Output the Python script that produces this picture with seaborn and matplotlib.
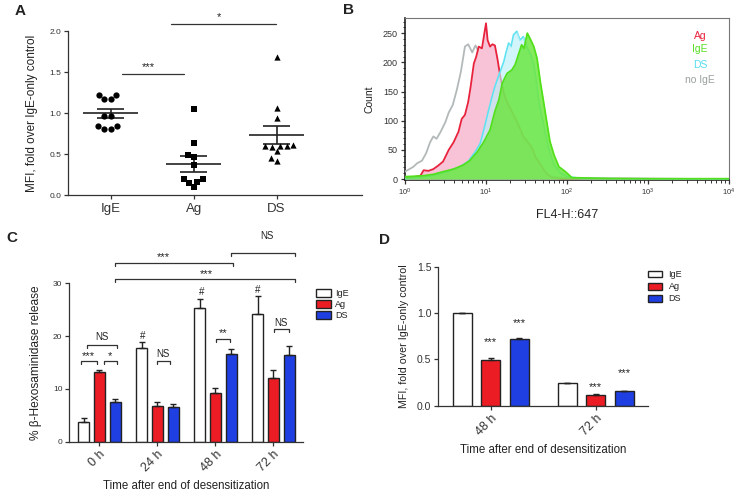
import numpy as np
import pandas as pd
import seaborn as sns
import matplotlib.pyplot as plt

# panel A: MFI fold over IgE-only control, one value per experiment
a_groups = ['IgE', 'Ag', 'DS']
a_ige = [1.215, 1.17, 1.17, 1.215, 0.96, 0.96, 0.84, 0.805, 0.805, 0.84]
a_ag = [1.05, 0.638, 0.49, 0.46, 0.37, 0.195, 0.195, 0.155, 0.142, 0.093]
a_ds = [1.68, 1.065, 0.94, 0.60, 0.59, 0.60, 0.60, 0.61, 0.537, 0.42, 0.45]

# panel B: flow histograms, position in decades of FL4-H and count
nolge_dec = [0.0, 0.054, 0.10, 0.15, 0.21, 0.26, 0.31, 0.35, 0.39, 0.44, 0.50, 0.54, 0.59, 0.64,
             0.69, 0.74, 0.78, 0.83, 0.87, 0.91, 0.95, 0.99, 1.03, 1.08, 1.13, 1.20, 1.26, 1.32,
             1.38, 1.46, 1.57, 1.67, 1.79, 1.92, 2.08, 2.4, 4.0]
nolge_cnt = [12.6, 17, 20.6, 27, 31.5, 44, 63, 73, 69, 81, 98, 114, 127, 153,
             184, 227, 231, 217, 229, 218, 201, 181, 153, 126, 98, 81, 58, 46,
             30, 23, 14, 9, 4.6, 2.3, 1, 0.5, 0]
ag_dec = [0.0, 0.10, 0.19, 0.23, 0.29, 0.35, 0.41, 0.47, 0.54, 0.60, 0.66, 0.70, 0.74, 0.78,
          0.81, 0.85, 0.88, 0.91, 0.95, 0.98, 1.00, 1.02, 1.05, 1.08, 1.11, 1.14, 1.18, 1.22,
          1.26, 1.34, 1.40, 1.46, 1.53, 1.57, 1.61, 1.65, 1.69, 1.73, 1.77, 1.82, 1.92, 2.5, 4.0]
ag_cnt = [2.3, 3, 5.7, 15, 14, 17, 23, 30, 50, 63, 81, 103, 110, 132,
          158, 198, 210, 227, 224, 250, 267, 238, 227, 231, 229, 207, 173, 147,
          132, 110, 93, 73, 61, 53, 38, 30, 21, 12.6, 7, 2.3, 0.6, 0.5, 0]
ds_dec = [0.0, 0.19, 0.35, 0.52, 0.68, 0.78, 0.87, 0.93, 0.99, 1.03, 1.07, 1.11, 1.16, 1.22,
          1.25, 1.28, 1.31, 1.34, 1.38, 1.42, 1.46, 1.51, 1.55, 1.59, 1.62, 1.65, 1.71, 1.77,
          1.84, 1.92, 2.0, 2.17, 2.6, 4.0]
ds_cnt = [1, 2.3, 5.7, 12.6, 21, 30, 47, 61, 93, 116, 138, 158, 178, 201,
          218, 233, 227, 247, 253, 238, 244, 224, 213, 196, 167, 133, 93, 53,
          24, 10, 4, 1, 0.5, 0]
ige_dec = [0.0, 0.10, 0.23, 0.35, 0.47, 0.60, 0.72, 0.80, 0.89, 0.97, 1.05, 1.11, 1.16, 1.20,
           1.26, 1.32, 1.36, 1.40, 1.44, 1.47, 1.51, 1.55, 1.59, 1.63, 1.67, 1.71, 1.75, 1.79,
           1.84, 1.90, 1.98, 2.06, 2.25, 2.5, 3.03, 4.0]
ige_cnt = [4, 4.6, 5.7, 8, 12.6, 17, 24, 31.5, 46, 63, 84, 116, 136, 164,
           181, 187, 196, 213, 230, 224, 250, 239, 227, 207, 167, 133, 98, 64,
           41, 21, 12.6, 2.3, 1.7, 1, 0.5, 0.5]

# panel C: % beta-hexosaminidase release, mean and SEM
c_times = ['0 h', '24 h', '48 h', '72 h']
c_ige = [3.68, 17.68, 25.27, 24.1]
c_ige_err = [0.77, 1.22, 1.85, 3.5]
c_ag = [13.19, 6.73, 9.26, 12.11]
c_ag_err = [0.44, 0.76, 0.82, 1.46]
c_ds = [7.49, 6.65, 16.54, 16.42]
c_ds_err = [0.63, 0.57, 0.95, 1.64]

# panel D: MFI fold over IgE-only control by time
d_times = ['48 h', '72 h']
d_ige = [1.0, 0.248]
d_ige_err = [0.0, 0.0]
d_ag = [0.493, 0.115]
d_ag_err = [0.027, 0.007]
d_ds = [0.716, 0.155]
d_ds_err = [0.011, 0.0]

groups = ['IgE', 'Ag', 'DS']
bar_colors = {'IgE': 'white', 'Ag': '#ec1c24', 'DS': '#1f3fe2'}
ink = '#222222'

sns.set_theme(style='ticks')
plt.rcParams['font.family'] = ['Liberation Sans', 'DejaVu Sans']
plt.rcParams['axes.edgecolor'] = '#333333'
plt.rcParams['axes.linewidth'] = 0.9
plt.rcParams['text.color'] = ink
plt.rcParams['axes.labelcolor'] = ink
plt.rcParams['xtick.color'] = '#333333'
plt.rcParams['ytick.color'] = '#333333'

W, H = 738, 501
fig = plt.figure(figsize=(W / 100, H / 100), dpi=100)


def ax_at(l, t, r, b):
    return fig.add_axes([l / W, 1 - b / H, (r - l) / W, (b - t) / H])


def bracket(ax, x1, x2, y, drop, label, tx, ty, fs=8):
    ax.plot([x1, x1, x2, x2], [y - drop, y, y, y - drop], color='#333333', lw=0.9, clip_on=False)
    ax.text(tx, ty, label, ha='center', va='center', fontsize=fs, clip_on=False)


# ---------------- A ----------------
axA = ax_at(68, 31, 362, 195)
for name, pts, mk in zip(a_groups, [a_ige, a_ag, a_ds], ['o', 's', '^']):
    sns.swarmplot(x=[name] * len(pts), y=pts, order=a_groups, marker=mk, color='black',
                  size=4.5, ax=axA)
for i, pts in enumerate([a_ige, a_ag, a_ds]):
    m = np.mean(pts)
    s = np.std(pts, ddof=1) / np.sqrt(len(pts))
    axA.hlines(m, i - 0.335, i + 0.335, color=ink, lw=1.2)
    axA.hlines([m - s, m + s], i - 0.166, i + 0.166, color=ink, lw=1.2)
    axA.vlines(i, m - s, m + s, color=ink, lw=1.2)
axA.set_xlim(-0.515, 3.03)
axA.set_ylim(0, 2.0)
axA.set_yticks([0, 0.5, 1.0, 1.5, 2.0])
axA.set_yticklabels(['0.0', '0.5', '1.0', '1.5', '2.0'])
axA.tick_params(axis='y', labelsize=6, length=3, width=0.9, pad=2)
axA.tick_params(axis='x', labelsize=9.5, length=3, width=0.9, pad=3)
axA.set_xlabel('')
axA.set_ylabel('MFI, fold over IgE-only control', fontsize=8.5, labelpad=8)
sns.despine(ax=axA)
axA.plot([0.136, 0.88], [1.47, 1.47], color='#333333', lw=0.9, clip_on=False)
axA.text(0.45, 1.56, '***', ha='center', va='center', fontsize=8, clip_on=False)
axA.plot([0.73, 1.99], [2.09, 2.09], color='#333333', lw=0.9, clip_on=False)
axA.text(1.30, 2.17, '*', ha='center', va='center', fontsize=8, clip_on=False)

# ---------------- B ----------------
axB = ax_at(405, 18, 729, 180)
hist = [
    ('no IgE', nolge_dec, nolge_cnt, '#b3b9b9', None, 0, 3),
    ('Ag', ag_dec, ag_cnt, '#e8223c', '#f8c3d6', 1.0, 4),
    ('DS', ds_dec, ds_cnt, '#5ee2f2', '#b9f1f8', 0.65, 5),
    ('IgE', ige_dec, ige_cnt, '#52e01c', '#66e636', 0.8, 7),
]
for name, dec, cnt, lc, fc, alpha, z in hist:
    xs = 10 ** np.array(dec)
    if fc is not None:
        axB.fill_between(xs, 0, cnt, color=fc, alpha=alpha, lw=0, zorder=z - 0.5)
    sns.lineplot(x=xs, y=cnt, color=lc, lw=1.3, ax=axB, zorder=z - 1 if name == 'DS' else z)
axB.set_xscale('log')
axB.set_xlim(1, 1e4)
axB.set_ylim(-1.7, 276)
axB.set_yticks([0, 50, 100, 150, 200, 250])
axB.set_yticks(np.arange(0, 280, 10), minor=True)
axB.tick_params(axis='both', which='major', labelsize=6.5, length=3, width=0.9, pad=2)
axB.tick_params(axis='both', which='minor', length=1.8, width=0.7)
axB.tick_params(axis='x', which='major', labelsize=5.5)
for side in ['top', 'right']:
    axB.spines[side].set_color('#777777')
    axB.spines[side].set_linewidth(0.8)
for side in ['left', 'bottom']:
    axB.spines[side].set_color('#222222')
    axB.spines[side].set_linewidth(1.2)
axB.set_xlabel('FL4-H::647', fontsize=9, labelpad=8)
axB.set_ylabel('Count', fontsize=7.5, labelpad=6)
for label, col, yy in [('Ag', '#e8223c', 0.891), ('IgE', '#55dd22', 0.807),
                       ('DS', '#55dcf0', 0.710), ('no IgE', '#9a9f9f', 0.617)]:
    axB.text(0.910, yy, label, color=col, fontsize=7.5, ha='center', va='center',
             transform=axB.transAxes)

# ---------------- C ----------------
axC = ax_at(69.3, 283.3, 303, 441.7)
c_df = pd.DataFrame({
    'time': c_times * 3,
    'group': ['IgE'] * 4 + ['Ag'] * 4 + ['DS'] * 4,
    'val': c_ige + c_ag + c_ds,
})
sns.barplot(data=c_df, x='time', y='val', hue='group', order=c_times, hue_order=groups,
            palette=bar_colors, saturation=1, width=0.81, gap=0.3, edgecolor=ink,
            linewidth=1, errorbar=None, ax=axC)
for cont, errs in zip(axC.containers, [c_ige_err, c_ag_err, c_ds_err]):
    for bar, e in zip(cont, errs):
        axC.errorbar(bar.get_x() + bar.get_width() / 2, bar.get_height(), yerr=[[0], [e]],
                     fmt='none', ecolor=ink, elinewidth=1, capsize=2.3, capthick=1, zorder=1)
leg = axC.get_legend()
handles, labels = leg.legend_handles, [t.get_text() for t in leg.get_texts()]
axC.legend(handles, labels, loc='upper left', bbox_to_anchor=(1.054, 0.965), frameon=False,
           fontsize=6.5, handlelength=1.66, handleheight=0.92, labelspacing=0.25,
           handletextpad=0.5, borderpad=0, borderaxespad=0)
axC.set_xlim(-0.52, 3.51)
axC.set_ylim(0, 30)
axC.set_yticks([0, 10, 20, 30])
axC.tick_params(axis='y', labelsize=6, length=3, width=0.9, pad=2)
axC.tick_params(axis='x', labelsize=9, length=3, width=0.9, pad=2)
for lab in axC.get_xticklabels():
    lab.set_rotation(45)
    lab.set_ha('right')
    lab.set_rotation_mode('anchor')
axC.set_xlabel('Time after end of desensitization', fontsize=8.3, labelpad=4)
axC.set_ylabel('% β-Hexosaminidase release', fontsize=8.6, labelpad=8)
sns.despine(ax=axC)
bracket(axC, 0.27, 2.3, 33.9, 0.6, '***', 1.1, 35.0)
bracket(axC, 2.27, 3.38, 35.8, 0.6, 'NS', 2.89, 38.9, fs=7)
bracket(axC, 0.27, 3.38, 30.76, 0.6, '***', 1.85, 31.8)
bracket(axC, -0.315, -0.045, 15.34, 0.6, '***', -0.19, 16.3)
bracket(axC, 0.07, 0.31, 15.34, 0.6, '*', 0.18, 16.3)
bracket(axC, -0.22, 0.30, 18.38, 0.6, 'NS', 0.04, 19.85, fs=7)
bracket(axC, 0.99, 1.22, 15.34, 0.6, 'NS', 1.10, 16.6, fs=7)
bracket(axC, 2.01, 2.25, 19.47, 0.6, '**', 2.13, 20.5)
bracket(axC, 3.01, 3.26, 21.37, 0.6, 'NS', 3.13, 22.5, fs=7)
for tx, ty in [(0.75, 20.1), (1.77, 28.3), (2.73, 28.8)]:
    axC.text(tx, ty, '#', ha='center', va='center', fontsize=7)

# ---------------- D ----------------
axD = ax_at(438.3, 266.7, 648.3, 405.7)
d_df = pd.DataFrame({
    'time': d_times * 3,
    'group': ['IgE'] * 2 + ['Ag'] * 2 + ['DS'] * 2,
    'val': d_ige + d_ag + d_ds,
})
sns.barplot(data=d_df, x='time', y='val', hue='group', order=d_times, hue_order=groups,
            palette=bar_colors, saturation=1, width=0.813, gap=0.336, edgecolor=ink,
            linewidth=1, errorbar=None, ax=axD)
for cont, errs in zip(axD.containers, [d_ige_err, d_ag_err, d_ds_err]):
    for bar, e in zip(cont, errs):
        axD.errorbar(bar.get_x() + bar.get_width() / 2, bar.get_height(), yerr=[[0], [e]],
                     fmt='none', ecolor=ink, elinewidth=1, capsize=2.3, capthick=1, zorder=1)
leg = axD.get_legend()
handles, labels = leg.legend_handles, [t.get_text() for t in leg.get_texts()]
axD.legend(handles, labels, loc='upper left', bbox_to_anchor=(1.0, 0.975), frameon=False,
           fontsize=6.5, handlelength=1.5, handleheight=0.8, labelspacing=0.35,
           handletextpad=0.75, borderpad=0, borderaxespad=0)
axD.set_xlim(-0.5, 1.5)
axD.set_ylim(0, 1.5)
axD.set_yticks([0, 0.5, 1.0, 1.5])
axD.set_yticklabels(['0.0', '0.5', '1.0', '1.5'])
axD.tick_params(axis='y', labelsize=7.5, length=3, width=0.9, pad=2)
axD.tick_params(axis='x', labelsize=9, length=3, width=0.9, pad=2)
for lab in axD.get_xticklabels():
    lab.set_rotation(45)
    lab.set_ha('right')
    lab.set_rotation_mode('anchor')
axD.set_xlabel('Time after end of desensitization', fontsize=8.3, labelpad=4)
axD.set_ylabel('MFI, fold over IgE-only control', fontsize=7.7, labelpad=6)
sns.despine(ax=axD)
for tx, ty in [(0.0, 0.69), (0.27, 0.895), (1.0, 0.198), (1.27, 0.356)]:
    axD.text(tx, ty, '***', ha='center', va='center', fontsize=8)

# panel letters
for letter, px, py in [('A', 20, 11), ('B', 348, 10), ('C', 12, 238), ('D', 385, 240)]:
    fig.text(px / W, 1 - py / H, letter, fontsize=11, fontweight='bold', ha='center', va='center')

fig.savefig('out.png', dpi=100)
